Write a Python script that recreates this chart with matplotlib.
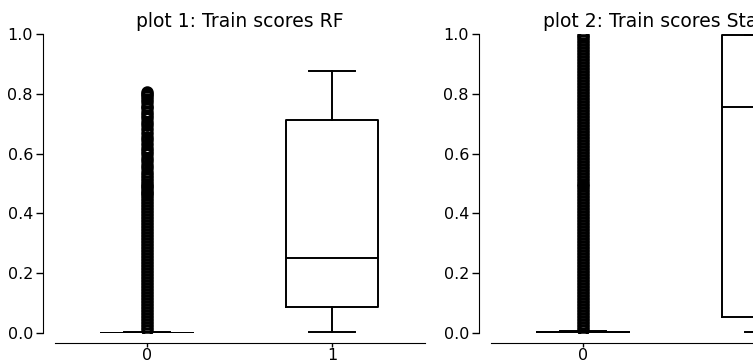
import matplotlib
matplotlib.use("Agg")
import matplotlib.pyplot as plt

# ---- data -------------------------------------------------------------
titles = ["plot 1: Train scores RF", "plot 2: Train scores Stacking"]
tick_labels = ["0", "1"]

# plot 1 (class 0 / class 1 score distributions)
rf_whislo = [0.0, 0.003]
rf_q1 = [0.0, 0.086]
rf_med = [0.0, 0.252]
rf_q3 = [0.0, 0.713]
rf_whishi = [0.005, 0.875]
rf_fliers_0 = [
    0.010, 0.020, 0.030, 0.040, 0.050, 0.060, 0.070, 0.080, 0.090, 0.100,
    0.110, 0.120, 0.130, 0.140, 0.150, 0.160, 0.170, 0.180, 0.190, 0.200,
    0.210, 0.220, 0.230, 0.240, 0.250, 0.260, 0.270, 0.280, 0.290, 0.300,
    0.310, 0.320, 0.330, 0.340, 0.350, 0.360, 0.370, 0.380, 0.390, 0.400,
    0.410, 0.420, 0.430, 0.440, 0.452, 0.460, 0.468, 0.476, 0.484, 0.492,
    0.500, 0.510, 0.520, 0.530, 0.540, 0.551, 0.562, 0.574, 0.585, 0.598,
    0.609, 0.620, 0.632, 0.645, 0.657, 0.670, 0.682, 0.694, 0.706, 0.718,
    0.728, 0.740, 0.751, 0.760, 0.772, 0.783, 0.792, 0.800, 0.807,
]
rf_fliers_1 = []

# plot 2
st_whislo = [0.0, 0.004]
st_q1 = [0.002, 0.055]
st_med = [0.002, 0.755]
st_q3 = [0.002, 0.998]
st_whishi = [0.006, 0.998]
st_fliers_0 = [
    0.01, 0.02, 0.03, 0.04, 0.05, 0.06, 0.07, 0.08, 0.09, 0.10,
    0.11, 0.12, 0.13, 0.14, 0.15, 0.16, 0.17, 0.18, 0.19, 0.20,
    0.21, 0.22, 0.23, 0.24, 0.25, 0.26, 0.27, 0.28, 0.29, 0.30,
    0.31, 0.32, 0.33, 0.34, 0.35, 0.36, 0.37, 0.38, 0.39, 0.40,
    0.41, 0.42, 0.43, 0.44, 0.45, 0.46, 0.47, 0.48, 0.49, 0.50,
    0.51, 0.52, 0.53, 0.54, 0.55, 0.56, 0.57, 0.58, 0.59, 0.60,
    0.61, 0.62, 0.63, 0.64, 0.65, 0.66, 0.67, 0.68, 0.69, 0.70,
    0.71, 0.72, 0.73, 0.74, 0.75, 0.76, 0.77, 0.78, 0.79, 0.80,
    0.81, 0.82, 0.83, 0.84, 0.85, 0.86, 0.87, 0.88, 0.89, 0.90,
    0.91, 0.92, 0.93, 0.94, 0.95, 0.96, 0.97, 0.98, 0.99, 0.995,
]
st_fliers_1 = []


def make_stats(whislo, q1, med, q3, whishi, fliers_list):
    return [
        dict(whislo=whislo[i], q1=q1[i], med=med[i], q3=q3[i],
             whishi=whishi[i], fliers=fliers_list[i])
        for i in range(len(med))
    ]


panels = [
    make_stats(rf_whislo, rf_q1, rf_med, rf_q3, rf_whishi,
               [rf_fliers_0, rf_fliers_1]),
    make_stats(st_whislo, st_q1, st_med, st_q3, st_whishi,
               [st_fliers_0, st_fliers_1]),
]

# ---- figure -----------------------------------------------------------
W, H = 753, 360
fig = plt.figure(figsize=(W / 100, H / 100), dpi=100)

ax_lefts = [54.5 / W, 490.5 / W]
ax_w = 370 / W
ax_b = 27 / H
ax_h = 299 / H

line = dict(color="black", linewidth=1.4)
for left, stats, title in zip(ax_lefts, panels, titles):
    ax = fig.add_axes([left, ax_b, ax_w, ax_h])
    ax.bxp(stats, positions=[0, 1], widths=0.5,
           boxprops=line, whiskerprops=line, capprops=line,
           medianprops=line,
           flierprops=dict(marker="o", markerfacecolor="none",
                           markeredgecolor="black", markersize=7,
                           markeredgewidth=2.0))
    ax.set_xlim(-0.5, 1.5)
    ax.set_ylim(0, 1.0)
    ax.set_xticks([0, 1])
    ax.set_xticklabels(tick_labels)
    ax.set_yticks([0.0, 0.2, 0.4, 0.6, 0.8, 1.0])
    ax.set_title(title, fontsize=13.5, pad=5)
    for side in ("top", "right"):
        ax.spines[side].set_visible(False)
    ax.spines["left"].set_position(("outward", 8))
    ax.spines["bottom"].set_position(("outward", 7))
    ax.tick_params(axis="y", labelsize=11.5, length=5, width=1.0, pad=2.5)
    ax.tick_params(axis="x", labelsize=11.5, length=3, width=1.0, pad=1)

fig.savefig("out.png", dpi=100)
